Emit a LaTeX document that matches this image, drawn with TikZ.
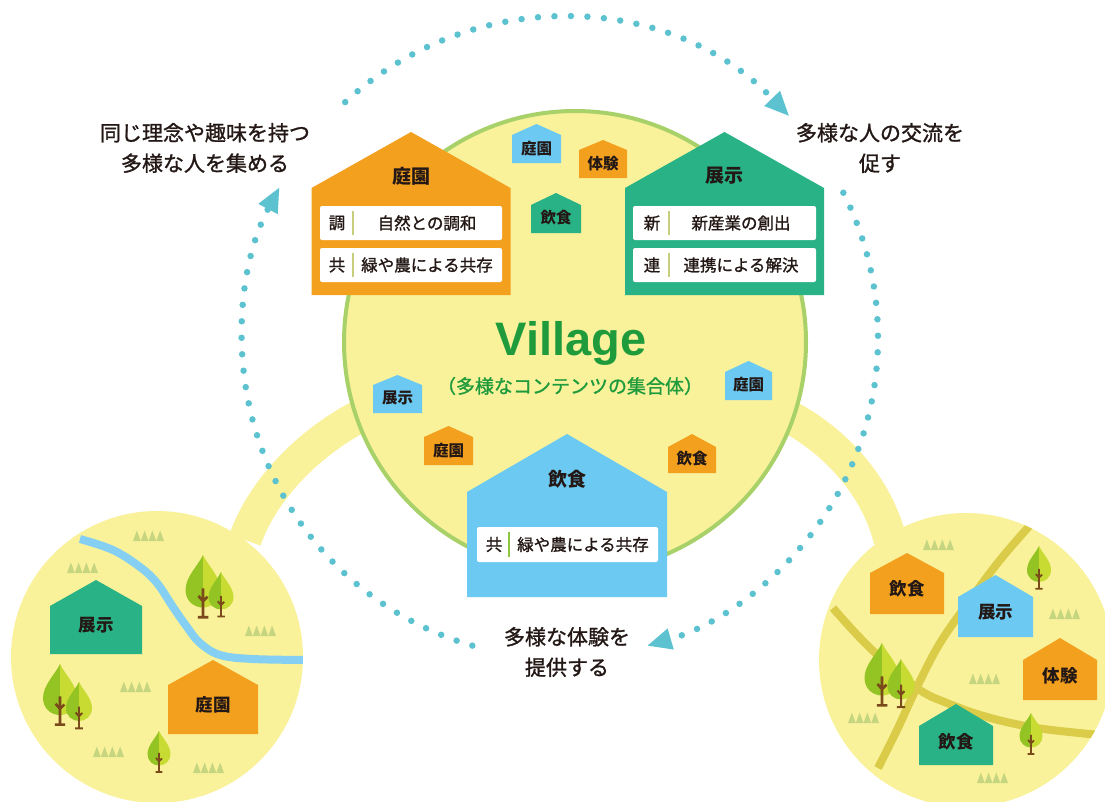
\documentclass[tikz,border=0pt]{standalone}
\usepackage{fontspec}
\setmainfont{Noto Sans CJK JP}
\newfontfamily\medfont{Noto Sans CJK JP}[FakeBold=1.2]
\newfontfamily\villagefont{Liberation Sans}
\usetikzlibrary{arrows.meta}

\definecolor{ink}{HTML}{231815}
\definecolor{fieldyellow}{HTML}{F9F29B}
\definecolor{ringgreen}{HTML}{A8D16A}
\definecolor{houseorange}{HTML}{F3A01F}
\definecolor{housegreen}{HTML}{28B286}
\definecolor{houseblue}{HTML}{6CC9F1}
\definecolor{villagegreen}{HTML}{1F9B3C}
\definecolor{cyclecyan}{HTML}{5CC2D0}
\definecolor{river}{HTML}{84CFF2}
\definecolor{road}{HTML}{DACC48}
\definecolor{grass}{HTML}{C6D680}
\definecolor{leafdark}{HTML}{93C423}
\definecolor{leaflight}{HTML}{C7DB33}
\definecolor{trunk}{HTML}{7A4A1A}
\definecolor{divider}{HTML}{C9CD7E}
\definecolor{dividergreen}{HTML}{8DC63F}

% house silhouette: fill colour, centre x, half width, ridge y, eave y, base y
\newcommand\hut[6]{%
  \fill[#1] ({#2-#3},#6) -- ({#2-#3},#5) -- (#2,#4) -- ({#2+#3},#5) -- ({#2+#3},#6) -- cycle;}

% two-tone tree: centre x, crown top y, crown width
\newcommand\tree[3]{%
  \begin{scope}[shift={(#1,#2)}, scale=#3]
    \fill[leafdark] (0,0) .. controls (-0.14,0.3) and (-0.5,0.62) .. (-0.5,1.0)
      .. controls (-0.5,1.3) and (-0.27,1.5) .. (0,1.5) -- cycle;
    \fill[leaflight] (0,0) .. controls (0.14,0.3) and (0.5,0.62) .. (0.5,1.0)
      .. controls (0.5,1.3) and (0.27,1.5) .. (0,1.5) -- cycle;
    \draw[trunk, line width={#3*0.075pt}] (0,0.95) -- (0,1.78)
      (-0.15,1.78) -- (0.15,1.78) (-0.13,1.17) -- (0,1.32) -- (0.13,1.19);
  \end{scope}}

% tuft of grass: left x, base y
\newcommand\tuft[2]{%
  \foreach \k in {0,...,3}{\fill[grass] ({#1+7.75*\k},#2) -- ++(3.875,-10.5) -- ++(3.875,10.5) -- cycle;}}

% one dotted arc of the cycle (parametric angles on the ring ellipse)
\newcommand\cyclearc[2]{%
  \draw[cycledots] ({560+318*cos(#1)},{338+320*sin(#1)})
    arc[start angle=#1, end angle=#2, x radius=318, y radius=320];}

\tikzset{
  caption/.style={font=\medfont\fontsize{21}{30.5}\selectfont, text=ink, align=center, inner sep=0pt},
  title/.style={font=\bfseries\fontsize{19}{19}\selectfont, text=ink, inner sep=0pt},
  hutlabel/.style={font=\bfseries\fontsize{15.5}{15.5}\selectfont, text=ink, inner sep=0pt},
  maplabel/.style={font=\bfseries\fontsize{17.5}{17.5}\selectfont, text=ink, inner sep=0pt},
  rowbox/.style={fill=white, rounded corners=2pt, minimum height=34pt, inner sep=0pt},
  rowtext/.style={font=\medfont\fontsize{16.5}{16.5}\selectfont, text=ink, inner sep=0pt},
  cycledots/.style={draw=cyclecyan, line width=6.5pt, line cap=round, dash pattern=on 0pt off 16.5pt,
    -{Triangle[length=24pt, width=22pt, line width=0pt, fill=cyclecyan]}},
  band/.style={draw=fieldyellow, line width=33pt},
  riverline/.style={draw=river, line width=8pt},
  roadline/.style={draw=road, line width=8pt},
}

\begin{document}
\begin{tikzpicture}[x=1pt, y=-1pt]
\useasboundingbox (0,0) rectangle (1105,801);
\clip (0,0) rectangle (1105,801);
\fill[white] (0,0) rectangle (1105,801);

% bands linking the village to the two neighbourhood maps
\draw[band] (368,412) .. controls (310,440) and (262,490) .. (245,540);
\draw[band] (780,412) .. controls (838,440) and (878,490) .. (890,540);

% the village
\fill[fieldyellow, draw=ringgreen, line width=4pt] (575,342) circle[radius=231];

% left neighbourhood map
\fill[fieldyellow] (157,657) circle[radius=146];
\begin{scope}
  \clip (157,657) circle[radius=146];
  \draw[riverline] plot[smooth, tension=0.6] coordinates
    {(80,539) (113,550) (140,567) (157,583) (173,607) (187,627) (200,643) (220,655) (253,659) (310,660)};
\end{scope}
\tuft{133}{541} \tuft{67}{573} \tuft{245}{636} \tuft{120}{692} \tuft{93}{757} \tuft{193}{773}
\hut{housegreen}{96}{46}{580}{606}{654}
\node[maplabel] (leftexhibit) at (96,625) {展示};
\hut{houseorange}{213}{45}{660}{685}{734}
\node[maplabel] (leftgarden) at (213,705) {庭園};
\tree{203}{555}{35} \tree{221}{572}{25}
\tree{60}{664}{34} \tree{79}{682}{26}
\tree{159}{731}{23}

% right neighbourhood map
\fill[fieldyellow] (966,660) circle[radius=147];
\begin{scope}
  \clip (966,660) circle[radius=147];
  \draw[roadline] plot[smooth, tension=0.6] coordinates
    {(1032,523) (1000,560) (970,600) (940,643) (917,687) (897,730) (878,768)};
  \draw[roadline] plot[smooth, tension=0.6] coordinates
    {(833,608) (870,648) (917,688) (947,703) (987,717) (1037,728) (1100,735)};
\end{scope}
\tuft{923}{550} \tuft{1049}{619} \tuft{969}{684} \tuft{848}{723} \tuft{977}{783}
\hut{houseorange}{907}{37}{553}{573}{614}
\node[maplabel] (rightfood) at (907,589) {飲食};
\hut{houseblue}{995.5}{37.5}{575}{597}{637}
\node[maplabel] (rightexhibit) at (995.5,612) {展示};
\hut{houseorange}{1060}{37}{638}{660}{700}
\node[maplabel] (rightexperience) at (1060,676) {体験};
\hut{housegreen}{956}{37}{704}{726}{765}
\node[maplabel] (rightfood2) at (956,742) {飲食};
\tree{1039}{546}{24}
\tree{882}{643}{35} \tree{901}{659}{27}
\tree{1031}{713}{23}

% small houses scattered in the village
\hut{houseblue}{536.5}{24.5}{124}{135}{163}
\node[hutlabel] (hutA) at (536.5,149) {庭園};
\hut{houseorange}{603}{24}{140}{150}{178}
\node[hutlabel] (hutB) at (603,164) {体験};
\hut{housegreen}{556}{25}{193}{205}{233}
\node[hutlabel] (hutC) at (556,218) {飲食};
\hut{houseblue}{397.5}{24.5}{375}{385}{413}
\node[hutlabel] (hutD) at (397.5,398) {展示};
\hut{houseorange}{448.5}{24.5}{426}{437}{465}
\node[hutlabel] (hutE) at (448.5,451) {庭園};
\hut{houseblue}{748.5}{23.5}{361}{372}{400}
\node[hutlabel] (hutF) at (748.5,385) {庭園};
\hut{houseorange}{692}{24}{434}{447}{473}
\node[hutlabel] (hutG) at (692,459) {飲食};

% garden house
\hut{houseorange}{411}{99.5}{132}{188}{295}
\node[title] (gardentitle) at (411,176) {庭園};
\node[rowbox, minimum width=182pt] (gardenrowA) at (411,223) {};
\node[rowtext] (gardenkeyA) at (337,223) {調};
\draw[divider, line width=2pt] (353,211) -- (353,235);
\node[rowtext] (gardentextA) at (427,223) {自然との調和};
\node[rowbox, minimum width=182pt] (gardenrowB) at (411,265) {};
\node[rowtext] (gardenkeyB) at (337,265) {共};
\draw[divider, line width=2pt] (353,253) -- (353,277);
\node[rowtext] (gardentextB) at (427,265) {緑や農による共存};

% exhibition house
\hut{housegreen}{724.5}{99.5}{132}{188}{295}
\node[title] (exhibittitle) at (724.5,176) {展示};
\node[rowbox, minimum width=183pt] (exhibitrowA) at (724.5,223) {};
\node[rowtext] (exhibitkeyA) at (652,223) {新};
\draw[divider, line width=2pt] (669,211) -- (669,235);
\node[rowtext] (exhibittextA) at (741,223) {新産業の創出};
\node[rowbox, minimum width=183pt] (exhibitrowB) at (724.5,265) {};
\node[rowtext] (exhibitkeyB) at (652,265) {連};
\draw[divider, line width=2pt] (669,253) -- (669,277);
\node[rowtext] (exhibittextB) at (741,265) {連携による解決};

% food house
\hut{houseblue}{567}{100}{434}{492}{597}
\node[title] (foodtitle) at (567,479) {飲食};
\node[rowbox, minimum width=181pt, minimum height=35pt] (foodrow) at (567.5,544.5) {};
\node[rowtext] (foodkey) at (494,544.5) {共};
\draw[dividergreen, line width=2pt] (509,532) -- (509,557);
\node[rowtext] (foodtext) at (583,544.5) {緑や農による共存};

% village name
\node[font=\villagefont\bfseries\fontsize{47}{47}\selectfont, text=villagegreen, inner sep=0pt, anchor=base]
  (villagename) at (571,355) {Village};
\node[font=\medfont\fontsize{19}{19}\selectfont, text=villagegreen, inner sep=0pt]
  (villagesub) at (570,386) {（多様なコンテンツの集合体）};

% cycle of dotted arrows around the village
\cyclearc{-132.5}{-44}
\cyclearc{-27}{74}
\cyclearc{106}{208}

% captions
\node[caption] (gather) at (205,148) {同じ理念や趣味を持つ\\多様な人を集める};
\node[caption] (exchange) at (880,148) {多様な人の交流を\\促す};
\node[caption] (experience) at (567,652) {多様な体験を\\提供する};
\end{tikzpicture}
\end{document}
